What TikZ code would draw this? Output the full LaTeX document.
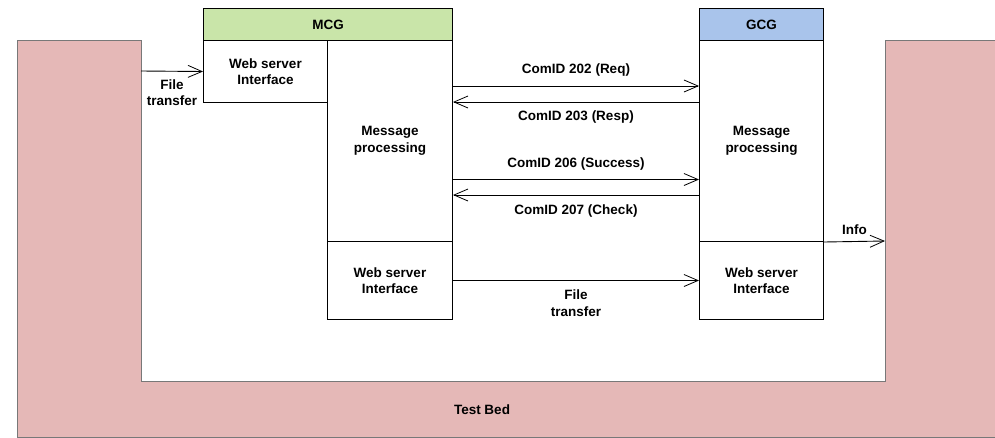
\documentclass[tikz,border=0pt]{standalone}
\usepackage{fontspec}
\setmainfont{Liberation Sans}
\usetikzlibrary{arrows.meta}
\definecolor{bedpink}{RGB}{229,184,183}
\definecolor{bedline}{RGB}{120,120,120}
\definecolor{mcggreen}{RGB}{201,229,169}
\definecolor{gcgblue}{RGB}{169,196,235}
\newcommand\lblfont{\fontsize{13.5}{16.5}\selectfont\bfseries}
\begin{document}
\begin{tikzpicture}[x=1pt,y=-1pt,
  part/.style={draw=black, line width=1pt, fill=white, inner sep=0pt,
    align=center, font=\lblfont, anchor=north west},
  head/.style={part, minimum height=32pt},
  lbl/.style={inner sep=0pt, align=center, font=\lblfont},
  msg/.style={line width=0.9pt,
    -{Straight Barb[length=14pt,width=12pt,line width=0.8pt]}}]
\useasboundingbox (0,0) rectangle (995,437);

% test bed: U-shaped frame round the two gateways
\filldraw[fill=bedpink, draw=bedline, line width=1pt]
  (17,40) -- (141,40) -- (141,381) -- (885,381) -- (885,40)
  -- (995,40) -- (995,437) -- (17,437) -- cycle;
\node[lbl] (bed) at (482,410) {Test Bed};
\coordinate (bedL) at (141,71);
\coordinate (bedR) at (885,241);

% MCG
\node[head, fill=mcggreen, minimum width=249pt] (mcg) at (203,8) {MCG};
\node[part, minimum width=124pt, minimum height=62pt] (mweb) at (203,40)
  {Web server\\Interface};
\node[part, minimum width=125pt, minimum height=201pt] (mproc) at (327,40)
  {Message\\processing};
\node[part, minimum width=125pt, minimum height=78pt] (mweb2) at (327,241)
  {Web server\\Interface};

% GCG
\node[head, fill=gcgblue, minimum width=124pt] (gcg) at (699,8) {GCG};
\node[part, minimum width=124pt, minimum height=201pt] (gproc) at (699,40)
  {Message\\processing};
\node[part, minimum width=124pt, minimum height=78pt] (gweb) at (699,241)
  {Web server\\Interface};

% message rows
\coordinate (r202) at (0,86);
\coordinate (r203) at (0,102);
\coordinate (r206) at (0,179.5);
\coordinate (r207) at (0,195);
\coordinate (rft) at (0,280.5);

\draw[msg] (bedL) -- node[lbl, below=8pt] {File\\transfer} (mweb.west);
\draw[msg] (mproc.east |- r202) -- node[lbl, above=9pt] {ComID 202 (Req)}
  (gproc.west |- r202);
\draw[msg] (gproc.west |- r203) -- node[lbl, below=8pt] {ComID 203 (Resp)}
  (mproc.east |- r203);
\draw[msg] (mproc.east |- r206) -- node[lbl, above=9pt] {ComID 206 (Success)}
  (gproc.west |- r206);
\draw[msg] (gproc.west |- r207) -- node[lbl, below=9pt] {ComID 207 (Check)}
  (mproc.east |- r207);
\draw[msg] (mweb2.east |- rft) -- node[lbl, below=9pt] {File\\transfer}
  (gweb.west |- rft);
\draw[msg] (gproc.south east) -- node[lbl, above=6pt] {Info} (bedR);
\end{tikzpicture}
\end{document}
